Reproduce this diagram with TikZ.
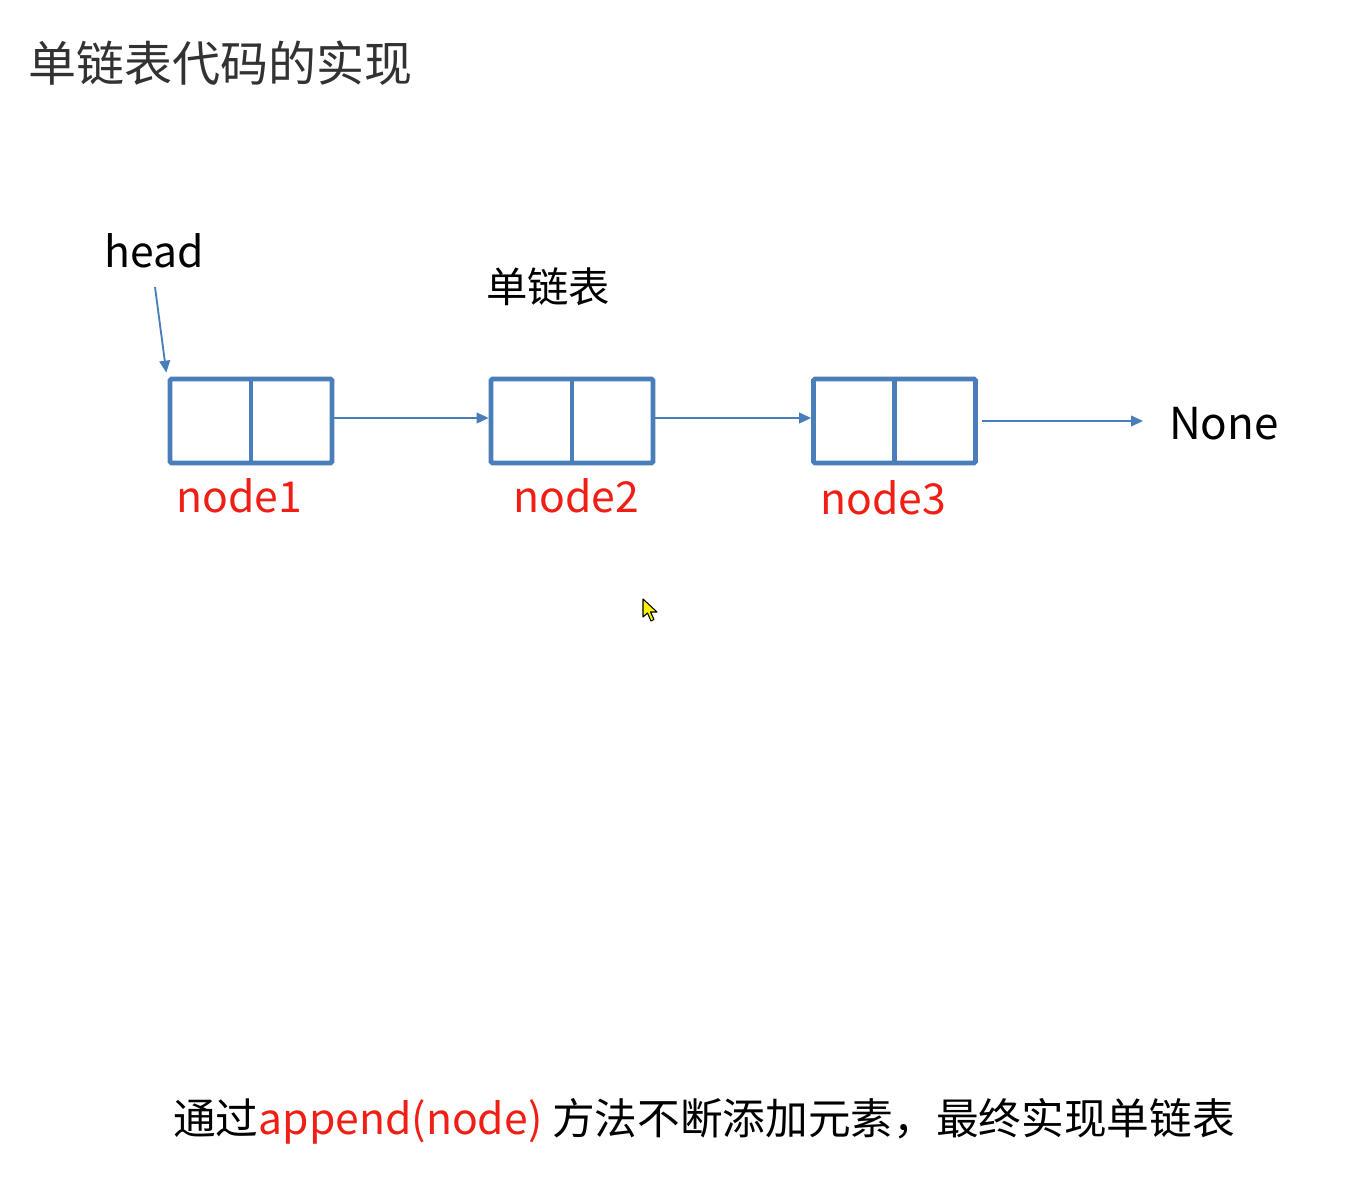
\documentclass[tikz,border=0pt]{standalone}
\usepackage{fontspec}
\setmainfont{Noto Sans CJK SC}
\newfontfamily\cjk{Noto Sans CJK SC}
\usetikzlibrary{arrows.meta}
\definecolor{lblue}{RGB}{74,126,187}
\definecolor{lred}{RGB}{240,30,20}
\definecolor{tgray}{RGB}{50,50,50}
\tikzset{
  listbox/.style={draw=lblue, line width=3.5pt, rounded corners=1pt, minimum width=121.5pt, minimum height=63pt, inner sep=0pt},
  link/.style={draw=lblue, line width=1.4pt, -{Triangle[length=9pt,width=8pt]}},
  lbl/.style={text=lred, font=\fontsize{32}{35}\selectfont, inner sep=0pt},
  txt/.style={text=black, font=\fontsize{32}{35}\selectfont, inner sep=0pt}
}
\begin{document}
\begin{tikzpicture}[x=0.75pt,y=-0.75pt]
\useasboundingbox (0,0) rectangle (1347,1178);
% title
\node[anchor=west, inner sep=0pt, text=tgray, font=\cjk\fontsize{36}{40}\selectfont] (title) at (28,63) {单链表代码的实现};
% boxes
\node[listbox] (b1) at (251,421) {};
\node[listbox] (b2) at (572,421) {};
\node[listbox] (b3) at (894.5,421) {};
\foreach \b in {b1,b2,b3}{\draw[lblue, line width=3.5pt] (\b.north) -- (\b.south);}
% labels
\node[lbl] (n1) at (239,496) {node1};
\node[lbl] (n2) at (576,496) {node2};
\node[lbl] (n3) at (883,498) {node3};
\node[txt] (head) at (154,251) {head};
\node[txt, font=\cjk\fontsize{31}{34}\selectfont] (sl) at (548,287) {单链表};
\node[txt, font=\fontsize{33}{36}\selectfont] (none) at (1224,424) {None};
\coordinate (hs) at (155,287);
\coordinate (ne) at (982,421);
\coordinate (nt) at (1143,421);
% connectors
\draw[link] (hs) -- ([xshift=-1pt,yshift=3pt]b1.north west);
\draw[link] ([yshift=2.25pt]b1.east) -- ([yshift=2.25pt]b2.west);
\draw[link] ([yshift=2.25pt]b2.east) -- ([yshift=2.25pt]b3.west);
\draw[link] (ne) -- (nt);
% cursor
\draw[fill=yellow, draw=black, line width=0.8pt, line join=round]
  (643,599) -- (643,617) -- (647.5,613) -- (651,621) -- (654,619.5) -- (650.5,612) -- (657,612) -- cycle;
% bottom sentence
\node[anchor=base west, inner sep=0pt, font=\cjk\fontsize{32}{36}\selectfont] (bottom) at (173,1134)
  {通过\textcolor{lred}{append(node)} 方法不断添加元素，最终实现单链表};
\end{tikzpicture}
\end{document}
